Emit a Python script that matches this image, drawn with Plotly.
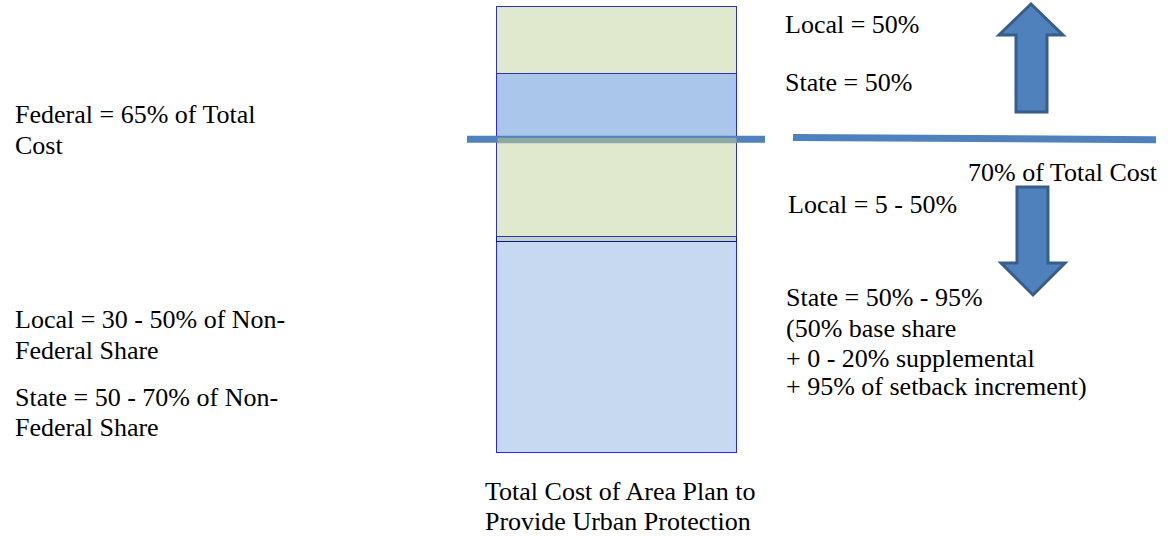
import plotly.graph_objects as go

# ---- data ----
segment_names = ["Non-Federal (lower)", "Transition", "Federal share (upper part)", "State share", "Local share"]
segment_values = [47.4, 1.0, 22.4, 14.3, 14.9]   # percent of total bar height, bottom to top
segment_colors = ["#C6D9F1", "#BFD0C4", "#E0E9CE", "#AAC6EA", "#E0E9CE"]
segment_lines = ["#2626F2", "#14148A", "#3030B8", "#2626F2", "#3030B8"]
threshold_pct = 70.4   # "70% of Total Cost" line

left_labels = ["Federal = 65% of Total", "Cost",
               "Local = 30 - 50% of Non-", "Federal Share",
               "State = 50 - 70% of Non-", "Federal Share"]
right_labels = ["Local = 50%", "State = 50%", "70% of Total Cost", "Local = 5 - 50%",
                "State = 50% - 95%", "(50% base share", "+ 0 - 20% supplemental",
                "+ 95% of setback increment)"]
bottom_labels = ["Total Cost of Area Plan to", "Provide Urban Protection"]

# ---- layout helpers (pixel positions) ----
W, H = 1168, 536
BAR_BOTTOM_PX, BAR_TOP_PX = 453.3, 7.3
SCALE = (BAR_BOTTOM_PX - BAR_TOP_PX) / 100.0
Y_RANGE = [-(H - BAR_BOTTOM_PX) / SCALE, 100 + BAR_TOP_PX / SCALE]
FONT = "'Liberation Serif', 'Times New Roman', 'DejaVu Serif', serif"
FS = 26
ASC = 0.89 * FS + 1

left_pos = [(14, 122), (14, 153), (14, 327), (14, 358), (14, 405), (14, 435)]
right_pos = [(784, 32), (784, 90), (967, 180), (787, 212), (785, 305), (785, 336),
             (785, 366), (785, 394)]
bottom_pos = [(484, 499), (484, 529)]


def px(x, y):
    return x / W, 1 - y / H


def pct(ypx):
    return (BAR_BOTTOM_PX - ypx) / SCALE


fig = go.Figure()
for name, v, c, lc in zip(segment_names, segment_values, segment_colors, segment_lines):
    fig.add_trace(go.Bar(x=[617], y=[v], width=[240], name=name,
                         marker=dict(color=c, line=dict(color=lc, width=1.5)),
                         hoverinfo="name+y"))

shapes = []
shapes.append(dict(type="line", xref="x", yref="y", x0=467, x1=765,
                   y0=threshold_pct, y1=threshold_pct,
                   line=dict(color="#4F81BD", width=7), layer="above"))
boundary = sum(segment_values[:3])
shapes.append(dict(type="rect", xref="x", yref="y", x0=497.5, x1=736.5,
                   y0=pct(143.2), y1=boundary - 0.05,
                   fillcolor="#8DAAA5", line=dict(width=0), layer="above"))
shapes.append(dict(type="line", xref="x", yref="y", x0=793, x1=1156,
                   y0=pct(137.4), y1=pct(139.7),
                   line=dict(color="#4F81BD", width=7), layer="above"))


def path(points):
    pts = [px(x, y) for x, y in points]
    return "M " + " L ".join(f"{a:.5f},{b:.5f}" for a, b in pts) + " Z"


up_arrow = [(1031, 4), (1063, 35), (1047, 35), (1047, 112), (1016, 112), (1016, 35), (999, 35)]
down_arrow = [(1017, 187), (1048, 187), (1048, 263), (1065, 263), (1033, 295), (1001, 263), (1017, 263)]
for a in (up_arrow, down_arrow):
    shapes.append(dict(type="path", xref="paper", yref="paper", path=path(a),
                       fillcolor="#4F81BD", line=dict(color="#385D8A", width=3), layer="above"))

annotations = []
for labels, poss in ((left_labels, left_pos), (right_labels, right_pos), (bottom_labels, bottom_pos)):
    for t, (x, yb) in zip(labels, poss):
        ax, ay = px(x - 1, yb - ASC)
        annotations.append(dict(text=t, x=ax, y=ay, xref="paper", yref="paper",
                                xanchor="left", yanchor="top", showarrow=False,
                                align="left", font=dict(family=FONT, size=FS, color="#000000")))

fig.update_layout(
    width=W, height=H, margin=dict(l=0, r=0, t=0, b=0),
    paper_bgcolor="white", plot_bgcolor="white",
    barmode="stack", bargap=0, showlegend=False,
    font=dict(family=FONT),
    xaxis=dict(range=[0, W], visible=False, fixedrange=True),
    yaxis=dict(range=Y_RANGE, visible=False, fixedrange=True),
    shapes=shapes, annotations=annotations,
)

fig.write_html("out.html", config={"displayModeBar": False},
               post_script="document.body.style.margin='0px';")
